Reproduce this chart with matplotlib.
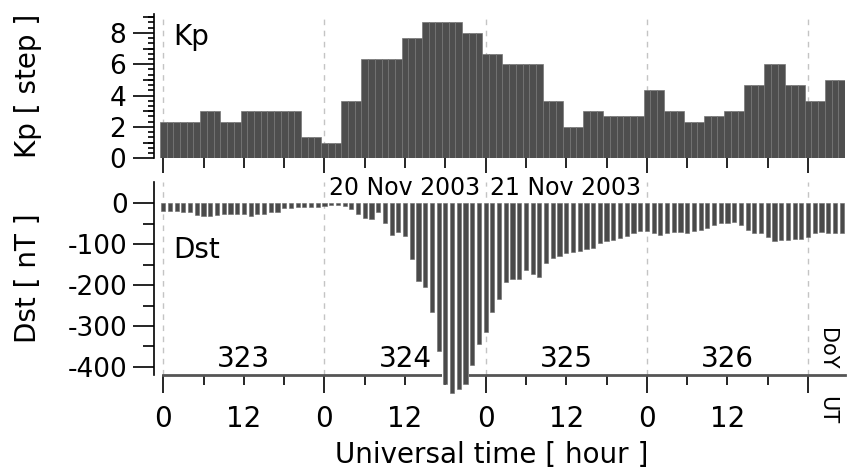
import numpy as np
import matplotlib.pyplot as plt
import matplotlib.transforms as mtransforms
from matplotlib.ticker import MultipleLocator

# 3-hourly Kp, 19-23 Nov 2003 (DoY 323-327)
kp_str = ['2+', '2+', '3o', '2+', '3o', '3o', '3o', '1+',
          '1o', '4-', '6+', '6+', '8-', '9-', '9-', '8o',
          '7-', '6o', '6o', '4-', '2o', '3o', '3-', '3-',
          '4+', '3o', '2+', '3-', '3o', '5-', '6o', '5-',
          '4-', '5o']

# hourly Dst [nT]
dst_323 = [-18, -18, -18, -20, -22, -28, -30, -30, -28, -27, -25, -25,
           -26, -30, -27, -25, -22, -20, -12, -11, -10, -10, -9, -8]
dst_324 = [-6, -5, -4, -6, -14, -26, -35, -38, -20, -49, -77, -69,
           -80, -135, -189, -204, -265, -361, -442, -465, -454, -441, -395, -345]
dst_325 = [-314, -265, -233, -193, -185, -184, -163, -173, -179, -147, -134, -128,
           -122, -119, -116, -112, -108, -96, -91, -89, -85, -80, -73, -68]
dst_326 = [-67, -73, -78, -73, -69, -69, -72, -67, -64, -60, -53, -49,
           -47, -45, -53, -65, -73, -73, -82, -91, -90, -90, -88, -88]
dst_327 = [-82, -72, -69, -72, -72, -72]

doy = [323, 324, 325, 326]
dates = ['20 Nov 2003', '21 Nov 2003']
date_days = [1, 2]


def kp_value(s):
    return int(s[0]) + {'-': -1 / 3, 'o': 0.0, '+': 1 / 3}[s[1]]


kp = np.array([kp_value(s) for s in kp_str])
dst = np.array(dst_323 + dst_324 + dst_325 + dst_326 + dst_327)
hours = np.arange(len(dst))
kp_hourly = np.repeat(kp, 3)

plt.rcParams['font.family'] = 'DejaVu Sans'
plt.rcParams['axes.unicode_minus'] = False

fig = plt.figure(figsize=(8.48, 4.70), dpi=100)
ax1 = fig.add_axes([0.1816, 0.6632, 0.8149, 0.3070])
ax2 = fig.add_axes([0.1816, 0.2021, 0.8149, 0.4113])

xmin, xmax = -1.38, 101.5
day_starts = np.arange(0, 97, 24)

for ax in (ax1, ax2):
    ax.set_xlim(xmin, xmax)
    for d in day_starts:
        ax.axvline(d, color='#c4c4c4', lw=1, ls=(0, (4, 4)), zorder=0)
    ax.spines[['top', 'right']].set_visible(False)
    ax.spines['left'].set_linewidth(1.2)
    ax.spines['bottom'].set_bounds(0, xmax)
    ax.tick_params(which='both', direction='out', width=1.2, color='black')

# Kp panel, one bar per hour so the 3-hour blocks show faint stripes
ax1.bar(hours, kp_hourly, width=1.0, color='#4e4e4e', edgecolor='#767676',
        linewidth=0.5, zorder=2)
ax1.set_ylim(0, 9.2)
ax1.set_yticks([0, 2, 4, 6, 8])
ax1.yaxis.set_minor_locator(MultipleLocator(1 / 3))
ax1.tick_params(axis='y', which='major', length=15, pad=5, labelsize=19)
ax1.tick_params(axis='y', which='minor', length=4.3)
odd = ax1.secondary_yaxis('left')
odd.set_yticks([1, 3, 5, 7, 9])
odd.set_yticklabels([])
odd.spines['left'].set_visible(False)
odd.tick_params(axis='y', length=8, width=1.2, direction='out')
ax1.set_xticks(day_starts)
ax1.set_xticks(np.arange(6, 100, 6), minor=True)
ax1.tick_params(axis='x', which='major', length=11, labelbottom=False)
ax1.tick_params(axis='x', which='minor', length=7, labelbottom=False)
ax1.spines['bottom'].set_visible(False)
ax1.text(-0.182, 0.5, 'Kp [ step ]', transform=ax1.transAxes, rotation=90,
         ha='center', va='center', fontsize=20)
ax1.text(0.0275, 0.785, 'Kp', transform=ax1.transAxes, va='baseline', fontsize=20)

# Dst panel: white underlay hides the axis line where the bars run past it
ax2.bar(hours, dst, width=1.0, color='white', linewidth=0, zorder=2.8, clip_on=False)
ax2.bar(hours, dst, width=0.62, color='#4a4a4a', edgecolor='#6a6a6a',
        linewidth=0.4, zorder=3, clip_on=False)
ax2.set_ylim(-420, 53)
ax2.set_yticks([0, -100, -200, -300, -400])
ax2.set_yticks([-50, -150, -250, -350], minor=True)
ax2.tick_params(axis='y', which='major', length=15, pad=4, labelsize=19)
ax2.tick_params(axis='y', which='minor', length=8)
ax2.spines['bottom'].set_color('#555555')
ax2.spines['bottom'].set_linewidth(2)

major_labels = ['0'] * (len(day_starts) - 1) + ['']
minor_ticks = [h for h in range(6, 100, 6) if h % 24 != 0]
minor_labels = ['12' if h % 24 == 12 else '' for h in minor_ticks]
ax2.set_xticks(day_starts, major_labels)
ax2.set_xticks(minor_ticks, minor_labels, minor=True)
ax2.tick_params(axis='x', which='major', length=13, pad=8.6, labelsize=20)
ax2.tick_params(axis='x', which='minor', length=7.2, pad=14.4, labelsize=20)

ax2.text(-0.182, 0.5, 'Dst [ nT ]', transform=ax2.transAxes, rotation=90,
         ha='center', va='center', fontsize=20)
ax2.text(0.0275, 0.605, 'Dst', transform=ax2.transAxes, va='baseline', fontsize=20)

trans = mtransforms.blended_transform_factory(ax2.transData, ax2.transAxes)
for i, d in enumerate(doy):
    ax2.text(24 * i + 12, 0.043, str(d), transform=trans, ha='center',
             va='baseline', fontsize=20)
for lbl, k in zip(dates, date_days):
    ax2.text(24 * k + 0.7, 0.931, lbl, transform=trans, ha='left',
             va='baseline', fontsize=17)
ax2.text(98.8, 0.135, 'DoY', transform=trans, rotation=270, ha='center',
         va='center', fontsize=15)
ax2.text(98.8, -0.181, 'UT', transform=trans, rotation=270, ha='center',
         va='center', fontsize=15)
ax2.text(0.488, -0.457, 'Universal time [ hour ]', transform=ax2.transAxes,
         ha='center', va='baseline', fontsize=20)

fig.savefig('out.png', dpi=100)
